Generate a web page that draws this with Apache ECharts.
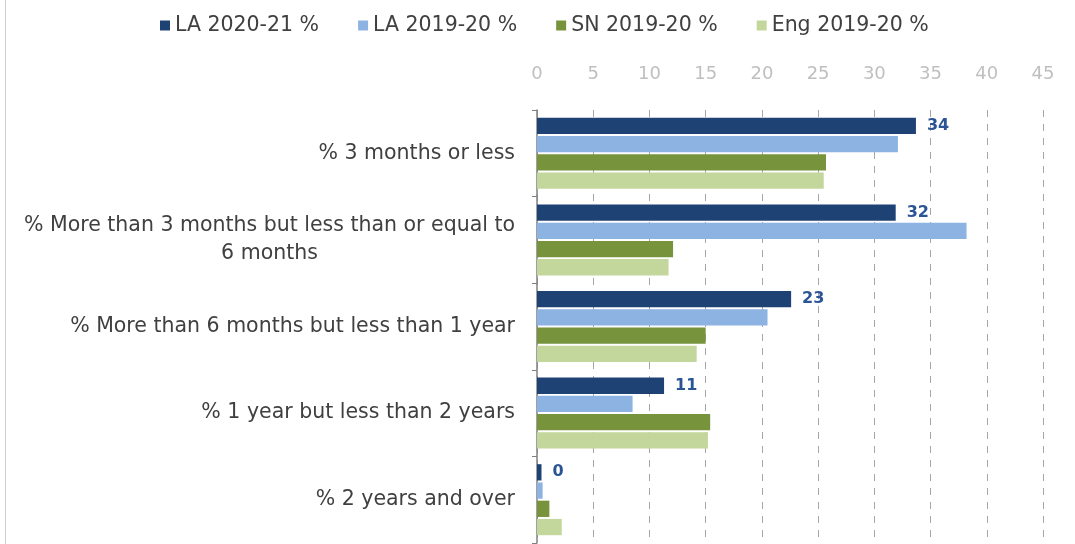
<!DOCTYPE html>
<html><head><meta charset="utf-8">
<script src="https://cdn.jsdelivr.net/npm/echarts@6/dist/echarts.min.js"></script>
<style>html,body{margin:0;padding:0;background:#fff}#c{width:1075px;height:544px}</style>
</head><body><div id="c"></div>
<script>
const categories = [
  "% 3 months or less",
  "% More than 3 months but less than or equal to 6 months",
  "% More than 6 months but less than 1 year",
  "% 1 year but less than 2 years",
  "% 2 years and over"
];
const seriesNames = ["LA 2020-21 %", "LA 2019-20 %", "SN 2019-20 %", "Eng 2019-20 %"];
const la2021 = [33.7, 31.9, 22.6, 11.3, 0.4];
const la1920 = [32.1, 38.2, 20.5, 8.5, 0.5];
const sn1920 = [25.7, 12.1, 15.0, 15.4, 1.1];
const eng1920 = [25.5, 11.7, 14.2, 15.2, 2.2];
const xTicks = { min: 0, max: 45, interval: 5 };

const colors = ["#1f4274", "#8db3e2", "#77933c", "#c3d69b"];
const font = "'DejaVu Sans', 'Open Sans', sans-serif";
function wrap(s, maxLen) {
  const words = s.split(' ');
  const lines = [];
  let cur = '';
  words.forEach(w => {
    if (cur && (cur + ' ' + w).length > maxLen) { lines.push(cur); cur = w; }
    else cur = cur ? cur + ' ' + w : w;
  });
  if (cur) lines.push(cur);
  return lines;
}
const chart = echarts.init(document.getElementById('c'));
const values = [la2021, la1920, sn1920, eng1920];
chart.setOption({
  animation: false,
  textStyle: { fontFamily: font },
  graphic: [{ type: 'line', shape: { x1: 5.5, y1: 0, x2: 5.5, y2: 544 }, style: { stroke: '#d0d0d0', lineWidth: 1 } }],
  legend: {
    top: 10, left: 155,
    itemWidth: 10, itemHeight: 10, itemGap: 39,
    icon: 'rect',
    textStyle: { fontSize: 20.5, color: '#404040', fontFamily: font },
    data: seriesNames
  },
  grid: { left: 537, right: 32, top: 110, bottom: 1, containLabel: false },
  xAxis: {
    type: 'value', position: 'top', min: xTicks.min, max: xTicks.max, interval: xTicks.interval,
    axisLine: { show: false }, axisTick: { show: false },
    axisLabel: { color: '#bfbfbf', fontSize: 18, margin: 27, fontFamily: font },
    splitLine: { show: true, lineStyle: { type: [7, 7], color: '#a6a6a6', width: 1 } }
  },
  yAxis: {
    type: 'category', inverse: true, data: categories,
    axisLine: { show: true, lineStyle: { color: '#808080', width: 1.5 } },
    axisTick: { show: true, length: 5, lineStyle: { color: '#808080' } },
    axisLabel: {
      color: '#404040', fontSize: 20.5, margin: 22, fontFamily: font,
      formatter: v => wrap(v, 47).map(l => '{c|' + l + '}').join('\n'),
      rich: { c: { align: 'center', fontSize: 20.5, color: '#404040', lineHeight: 28, fontFamily: font } }
    }
  },
  series: seriesNames.map((n, i) => ({
    name: n, type: 'bar', data: values[i],
    itemStyle: { color: colors[i] },
    barCategoryGap: '18%', barGap: '12%',
    label: i === 0 ? {
      show: true, position: 'right', distance: 11,
      color: '#2a5494', fontWeight: 'bold', fontSize: 16, fontFamily: font,
      formatter: p => Math.round(p.value)
    } : { show: false }
  }))
});
</script>
</body></html>
